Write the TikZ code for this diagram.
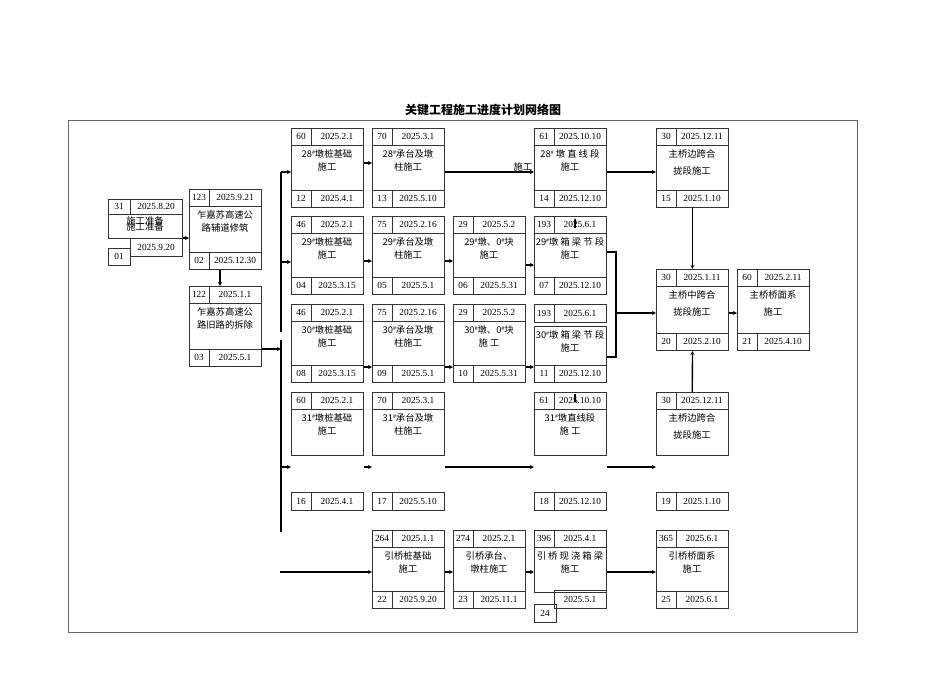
\documentclass[tikz,border=0pt]{standalone}
\usepackage{fontspec}
\setmainfont{Liberation Serif}
\newfontfamily\cjk{Noto Sans CJK SC}
\usetikzlibrary{arrows.meta}
\tikzset{
 num/.style={font=\fontsize{7}{8}\selectfont,inner sep=0},
 body/.style={font=\cjk\fontsize{7}{10}\selectfont,align=center,inner sep=0},
 frame/.style={draw=black!80,line width=0.7pt},
 con/.style={line width=1pt,-{Stealth[length=3pt,width=3pt,open]}},
 bcon/.style={line width=1.6pt,-{Stealth[length=3pt,width=3pt,open]}},
}
\newcommand\sh{\raisebox{0.6ex}{\fontsize{4}{4}\selectfont\#}}
% name, x, y, tl, tr, body, bl, br, height
\newcommand\bx[9]{%
 \node[frame,minimum width=54pt,minimum height=#9*0.75pt,anchor=north west,inner sep=0] (#1) at (#2,#3) {};
 \draw[frame] (#2,#3+17) -- ++(72,0) (#2,#3+#9-17) -- ++(72,0) (#2+20,#3) -- ++(0,17) (#2+20,#3+#9) -- ++(0,-17);
 \node[num] at (#2+10,#3+8.5) {#4};
 \node[num] at (#2+46,#3+8.5) {#5};
 \node[body,anchor=north] at (#2+36,#3+21) {#6};
 \node[num] at (#2+10,#3+#9-8.5) {#7};
 \node[num] at (#2+46,#3+#9-8.5) {#8};}
% split box row 4: name,x,tl,tr,body,bl,br
\newcommand\bxs[7]{%
 \node[minimum width=54pt,minimum height=88.5pt,anchor=north west,inner sep=0] (#1) at (#2,392) {};
 \draw[frame] (#2,392) rectangle ++(72,63) (#2,409) -- ++(72,0) (#2+20,392) -- ++(0,17)
   (#2,492) rectangle ++(72,18) (#2+20,492) -- ++(0,18);
 \node[num] at (#2+10,400.5) {#3};
 \node[num] at (#2+46,400.5) {#4};
 \node[body,anchor=north] at (#2+36,413) {#5};
 \node[num] at (#2+10,501) {#6};
 \node[num] at (#2+46,501) {#7};}
\begin{document}
\begin{tikzpicture}[x=0.75pt,y=-0.75pt]
\useasboundingbox (0,0) rectangle (950,672);
\node[font=\cjk\bfseries\fontsize{9}{10}\selectfont] (title) at (483,110) {关键工程施工进度计划网络图};
\draw[draw=black!60,line width=0.7pt] (68,120) rectangle (857,632);
% start box
\node[minimum width=55.5pt,minimum height=49.5pt,anchor=north west,inner sep=0] (S) at (108,199) {};
\draw[frame] (108,199) rectangle (182,238) (108,214) -- (182,214) (130,199) -- (130,214)
  (130,238) rectangle (182,256) (108,248) rectangle (130,265);
\node[num] at (119,206.5) {31};
\node[num] at (156,206.5) {2025.8.20};
\node[body] at (145,221) {施工准备};
\node[body] at (145,227) {施工准备};
\node[num] at (156,247) {2025.9.20};
\node[num] at (119,256.5) {01};
\bx{B02}{189}{189}{123}{2025.9.21}{乍嘉苏高速公\\路辅道修筑}{02}{2025.12.30}{80}
\bx{B03}{189}{286}{122}{2025.1.1}{乍嘉苏高速公\\路旧路的拆除}{03}{2025.5.1}{80}
% row1
\bx{A1}{291}{128}{60}{2025.2.1}{28\sh 墩桩基础\\施工}{12}{2025.4.1}{79}
\bx{B1}{372}{128}{70}{2025.3.1}{28\sh 承台及墩\\柱施工}{13}{2025.5.10}{79}
\bx{D1}{534}{128}{61}{2025.10.10}{28\sh\ 墩 直 线 段\\施工}{14}{2025.12.10}{79}
\bx{E1}{656}{128}{30}{2025.12.11}{主桥边跨合\\[3pt]拢段施工}{15}{2025.1.10}{79}
\node[body] (lbl) at (523,167) {施工};
% row2
\bx{A2}{291}{216}{46}{2025.2.1}{29\sh 墩桩基础\\施工}{04}{2025.3.15}{78}
\bx{B2}{372}{216}{75}{2025.2.16}{29\sh 承台及墩\\柱施工}{05}{2025.5.1}{78}
\bx{C2}{453}{216}{29}{2025.5.2}{29\sh 墩、0\sh 块\\施工}{06}{2025.5.31}{78}
\bx{D2}{534}{216}{193}{2025.6.1}{29\sh 墩 箱 梁 节 段\\施工}{07}{2025.12.10}{78}
% row3
\bx{A3}{291}{304}{46}{2025.2.1}{30\sh 墩桩基础\\施工}{08}{2025.3.15}{78}
\bx{B3}{372}{304}{75}{2025.2.16}{30\sh 承台及墩\\柱施工}{09}{2025.5.1}{78}
\bx{C3}{453}{304}{29}{2025.5.2}{30\sh 墩、0\sh 块\\施 工}{10}{2025.5.31}{78}
\node[minimum width=54pt,minimum height=58.5pt,anchor=north west,inner sep=0] (D3) at (534,304) {};
\draw[frame] (534,304) rectangle ++(72,18) (554,304) -- ++(0,18)
  (534,326) rectangle (606,382) (534,365) -- (606,365) (554,365) -- (554,382);
\node[num] at (544,313) {193};
\node[num] at (580,313) {2025.6.1};
\node[body,anchor=north] at (570,330) {30\sh 墩 箱 梁 节 段\\施工};
\node[num] at (544,373.5) {11};
\node[num] at (580,373.5) {2025.12.10};
% middle
\bx{E2}{656}{269}{30}{2025.1.11}{主桥中跨合\\[3pt]拢段施工}{20}{2025.2.10}{81}
\bx{F2}{737}{269}{60}{2025.2.11}{主桥桥面系\\[3pt]施工}{21}{2025.4.10}{81}
% row4
\bxs{A4}{291}{60}{2025.2.1}{31\sh 墩桩基础\\施工}{16}{2025.4.1}
\bxs{B4}{372}{70}{2025.3.1}{31\sh 承台及墩\\柱施工}{17}{2025.5.10}
\bxs{D4}{534}{61}{2025.10.10}{31\sh 墩直线段\\施 工}{18}{2025.12.10}
\bxs{E4}{656}{30}{2025.12.11}{主桥边跨合\\[3pt]拢段施工}{19}{2025.1.10}
% row5
\bx{B5}{372}{530}{264}{2025.1.1}{引桥桩基础\\施工}{22}{2025.9.20}{78}
\bx{C5}{453}{530}{274}{2025.2.1}{引桥承台、\\墩柱施工}{23}{2025.11.1}{78}
\node[minimum width=54pt,minimum height=58.5pt,anchor=north west,inner sep=0] (D5) at (534,530) {};
\draw[frame] (534,530) rectangle (606,592) (534,547) -- (606,547) (554,530) -- (554,547)
  (554,590) rectangle (606,608) (534,604) rectangle (556,622);
\node[num] at (544,538.5) {396};
\node[num] at (580,538.5) {2025.4.1};
\node[body,anchor=north] at (570,551) {引 桥 现 浇 箱 梁\\施工};
\node[num] at (580,599) {2025.5.1};
\node[num] at (545,613) {24};
\bx{E5}{656}{530}{365}{2025.6.1}{引桥桥面系\\施工}{25}{2025.6.1}{78}
% connectors
\coordinate (V1) at (281,172);
\coordinate (V2) at (281,332);
\coordinate (V3) at (281,340);
\coordinate (V4) at (281,532);
\draw[line width=1.6pt] (V1) -- (V2) (V3) -- (V4);
\draw[con] (V1) -- (A1.west |- V1);
\draw[con] (281,262) -- (A2.west |- 0,262);
\draw[con] (281,467) -- (A4.west |- 0,467);
\draw[bcon] (S.east |- 0,238) -- (B02.west |- 0,238);
\draw[bcon] (B02.south -| 220,0) -- (B03.north -| 220,0);
\draw[con] (B03.east |- 0,349) -- (281,349);
\draw[con] (A1.east |- 0,163) -- (B1.west |- 0,163);
\draw[bcon] (B1.east |- 0,172) -- (D1.west |- 0,172);
\draw[con] (D1.east |- 0,172) -- (E1.west |- 0,172);
\draw[con] (E1.south) -- (E2.north);
\draw[con] (A2.east |- 0,261) -- (B2.west |- 0,261);
\draw[con] (B2.east |- 0,261) -- (C2.west |- 0,261);
\draw[con] (C2.east |- 0,265) -- (D2.west |- 0,265);
\draw[line width=1pt] (D2.east |- 0,252) -- (616,252) -- (616,357) -- (D3.east |- 0,357);
\draw[con] (616,313) -- (E2.west |- 0,313);
\draw[con] (A3.east |- 0,367) -- (B3.west |- 0,367);
\draw[con] (B3.east |- 0,367) -- (C3.west |- 0,367);
\draw[con] (C3.east |- 0,367) -- (D3.west |- 0,367);
\draw[con] (E2.east |- 0,313) -- (F2.west |- 0,313);
\draw[con] (E4.north) -- (E2.south);
\draw[con] (A4.east |- 0,467) -- (B4.west |- 0,467);
\draw[con] (B4.east |- 0,467) -- (D4.west |- 0,467);
\draw[con] (D4.east |- 0,467) -- (E4.west |- 0,467);
\draw[bcon] (280,572) -- (B5.west |- 0,572);
\draw[con] (B5.east |- 0,572) -- (C5.west |- 0,572);
\draw[con] (C5.east |- 0,572) -- (D5.west |- 0,572);
\draw[con] (D5.east |- 0,572) -- (E5.west |- 0,572);
\draw[line width=0.8pt,-{Stealth[length=2.5pt]}] (575,228) -- (575,218);
\draw[line width=0.8pt] (575,394) -- (575,402);
\end{tikzpicture}
\end{document}
